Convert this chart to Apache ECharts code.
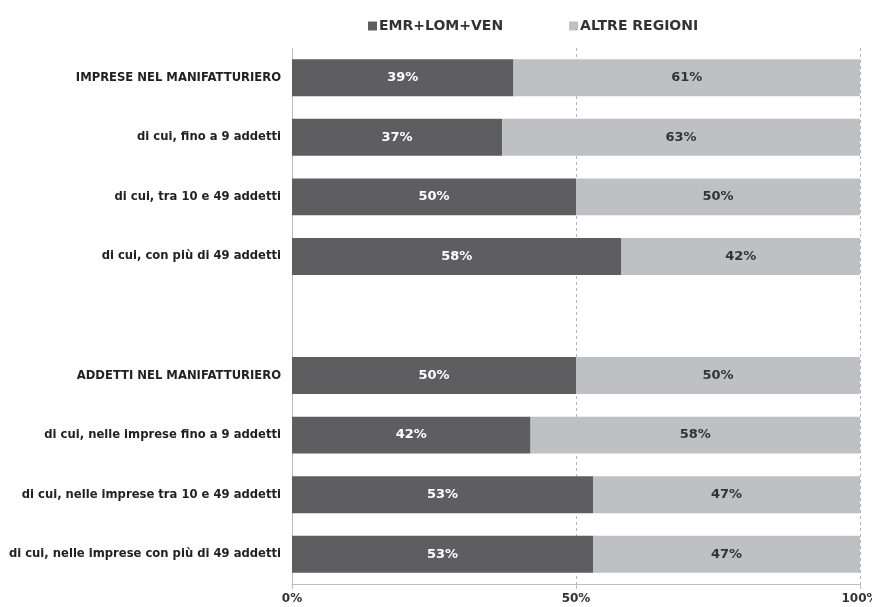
<!DOCTYPE html>
<html>
<head>
<meta charset="utf-8">
<script src="https://cdn.jsdelivr.net/npm/echarts@6/dist/echarts.min.js"></script>
<style>
  html, body { margin: 0; padding: 0; background: #fff; }
  #chart { width: 872px; height: 607px; }
</style>
</head>
<body>
<div id="chart"></div>
<script>
// categories (the empty one is the gap between the two groups)
var categories = [
  "IMPRESE NEL MANIFATTURIERO",
  "di cui, fino a 9 addetti",
  "di cui, tra 10 e 49 addetti",
  "di cui, con più di 49 addetti",
  "",
  "ADDETTI NEL MANIFATTURIERO",
  "di cui, nelle imprese fino a 9 addetti",
  "di cui, nelle imprese tra 10 e 49 addetti",
  "di cui, nelle imprese con più di 49 addetti"
];
var seriesNames = ["EMR+LOM+VEN", "ALTRE REGIONI"];
var emrLomVen = [39, 37, 50, 58, null, 50, 42, 53, 53];
var altreRegioni = [61, 63, 50, 42, null, 50, 58, 47, 47];

var font = "'DejaVu Sans', sans-serif";

var chart = echarts.init(document.getElementById("chart"));

var option = {
  backgroundColor: "#fff",
  animation: false,
  textStyle: { fontFamily: font },
  legend: {
    top: 14,
    left: 363,
    itemGap: 66,
    itemWidth: 9,
    itemHeight: 9,
    icon: "rect",
    textStyle: { fontFamily: font, fontWeight: "bold", fontSize: 14, color: "#333", padding: [0, 0, 0, -3] },
    data: seriesNames
  },
  grid: { left: 292, right: 12, top: 48, bottom: 23, outerBoundsMode: "none" },
  xAxis: {
    type: "value",
    min: 0,
    max: 100,
    interval: 50,
    axisLine: { show: true, lineStyle: { color: "#bdbdbd", width: 1 } },
    axisTick: { show: true, length: 5, lineStyle: { color: "#bdbdbd" } },
    splitLine: { show: true, lineStyle: { type: [3, 3], color: "#b5b5b5", width: 1 } },
    axisLabel: {
      formatter: "{value}%",
      margin: 9,
      fontFamily: font,
      fontWeight: "bold",
      fontSize: 12,
      color: "#333"
    }
  },
  yAxis: {
    type: "category",
    inverse: true,
    data: categories,
    axisLine: { show: true, lineStyle: { color: "#bdbdbd", width: 1 } },
    axisTick: { show: false },
    splitLine: { show: false },
    axisLabel: {
      margin: 11,
      fontFamily: font,
      fontWeight: "bold",
      fontSize: 11.6,
      color: "#222"
    }
  },
  series: [
    {
      name: seriesNames[0],
      type: "bar",
      stack: "tot",
      barCategoryGap: "38%",
      data: emrLomVen,
      itemStyle: { color: "#5e5e61" },
      label: {
        show: true,
        position: "inside",
        formatter: "{c}%",
        fontFamily: font,
        fontWeight: "bold",
        fontSize: 13,
        color: "#fff"
      }
    },
    {
      name: seriesNames[1],
      type: "bar",
      stack: "tot",
      barCategoryGap: "38%",
      data: altreRegioni,
      itemStyle: { color: "#bfc0c3" },
      label: {
        show: true,
        position: "inside",
        formatter: "{c}%",
        fontFamily: font,
        fontWeight: "bold",
        fontSize: 13,
        color: "#333"
      }
    }
  ]
};

chart.setOption(option);
</script>
</body>
</html>
